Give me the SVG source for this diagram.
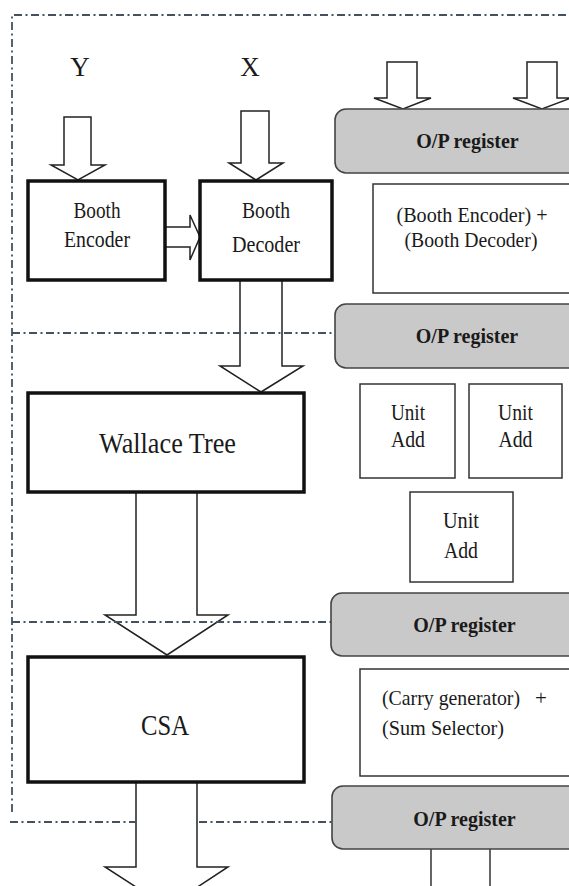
<svg xmlns="http://www.w3.org/2000/svg" width="569" height="886" viewBox="0 0 569 886">
<style>
.bg{fill:#ffffff}
.dash{fill:none;stroke:#44525f;stroke-width:1.8;stroke-dasharray:8 3.5 2 3.5}
.thick{fill:#ffffff;stroke:#111111;stroke-width:3.5}
.thin{fill:#ffffff;stroke:#333333;stroke-width:1.5}
.reg{fill:#c9c9c9;stroke:#444444;stroke-width:1.6}
.arrow{fill:#ffffff;stroke:#222222;stroke-width:1.5;stroke-linejoin:miter}
text{fill:#1a1a1a}
.t{text-anchor:middle}
.b{font-weight:bold;font-size:20px}
</style>
<rect class="bg" x="0" y="0" width="569" height="886"/>

<g id="connectors">
<polygon class="arrow" points="64,117 91,117 91,165 105,165 78,180 51,165 64,165"/>
<polygon class="arrow" points="241,111 269,111 269,163 283,163 256,180 229,163 241,163"/>
<polygon class="arrow" points="165,227 190,227 190,215 200,237 190,260 190,247 165,247"/>
<polygon class="arrow" points="387,62 417,62 417,98 431,98 403,109 374,98 387,98"/>
<polygon class="arrow" points="527,62 557,62 557,98 571,98 542,109 513,98 527,98"/>
<polygon class="arrow" points="240,280 282,280 282,366 303,366 261,392 220,366 240,366"/>
<polygon class="arrow" points="136,492 197,492 197,615 228,615 167,655 105,615 136,615"/>
<polygon class="arrow" points="136,782 197,782 197,867 228,867 167,907 105,867 136,867"/>
<line x1="431" y1="849" x2="431" y2="890" stroke="#333" stroke-width="1.5"/>
<line x1="490" y1="849" x2="490" y2="890" stroke="#333" stroke-width="1.5"/>
</g>

<g id="boundaries">
<polyline class="dash" points="600,15 12,15 12,813"/>
<line class="dash" x1="12" y1="333" x2="335" y2="333"/>
<line class="dash" x1="12" y1="622" x2="331" y2="622"/>
<line class="dash" x1="10" y1="822" x2="136" y2="822"/>
<line class="dash" x1="199" y1="822" x2="332" y2="822"/>
</g>

<g font-family="'Liberation Serif', 'Times New Roman', Times, serif">
<g id="label-y"><text class="t" x="80" y="76" font-size="27">Y</text></g>
<g id="label-x"><text class="t" x="250" y="76" font-size="27">X</text></g>

<g id="booth-encoder">
<rect class="thick" x="28" y="181" width="137" height="99"/>
<text class="t" x="97" y="218" font-size="23" textLength="47" lengthAdjust="spacingAndGlyphs">Booth</text>
<text class="t" x="97" y="247" font-size="23" textLength="66" lengthAdjust="spacingAndGlyphs">Encoder</text>
</g>

<g id="booth-decoder">
<rect class="thick" x="200" y="181" width="132" height="99"/>
<text class="t" x="266" y="218" font-size="23" textLength="48" lengthAdjust="spacingAndGlyphs">Booth</text>
<text class="t" x="266" y="252" font-size="23" textLength="68" lengthAdjust="spacingAndGlyphs">Decoder</text>
</g>

<g id="wallace-tree">
<rect class="thick" x="28" y="393" width="276" height="99"/>
<text class="t" x="167.5" y="453" font-size="29" textLength="137" lengthAdjust="spacingAndGlyphs">Wallace Tree</text>
</g>

<g id="csa">
<rect class="thick" x="28" y="657" width="276" height="125"/>
<text class="t" x="165" y="735" font-size="29" textLength="48" lengthAdjust="spacingAndGlyphs">CSA</text>
</g>

<g id="op-register-1">
<rect class="reg" x="335" y="109" width="260" height="64" rx="11"/>
<text class="t b" x="467.5" y="148">O/P register</text>
</g>

<g id="booth-enc-dec">
<rect class="thin" x="373" y="184" width="220" height="109"/>
<text class="t" x="472" y="222" font-size="21" textLength="151" lengthAdjust="spacingAndGlyphs">(Booth Encoder) +</text>
<text class="t" x="471" y="247" font-size="21" textLength="133" lengthAdjust="spacingAndGlyphs">(Booth Decoder)</text>
</g>

<g id="op-register-2">
<rect class="reg" x="335" y="304" width="260" height="64" rx="11"/>
<text class="t b" x="467" y="343">O/P register</text>
</g>

<g id="unit-add-1">
<rect class="thin" x="360" y="384" width="95" height="94"/>
<text class="t" x="408" y="420" font-size="23" textLength="34" lengthAdjust="spacingAndGlyphs">Unit</text>
<text class="t" x="408" y="447" font-size="23" textLength="34" lengthAdjust="spacingAndGlyphs">Add</text>
</g>

<g id="unit-add-2">
<rect class="thin" x="469" y="384" width="93" height="94"/>
<text class="t" x="515.5" y="420" font-size="23" textLength="35" lengthAdjust="spacingAndGlyphs">Unit</text>
<text class="t" x="515.5" y="447" font-size="23" textLength="34" lengthAdjust="spacingAndGlyphs">Add</text>
</g>

<g id="unit-add-3">
<rect class="thin" x="410" y="492" width="103" height="90"/>
<text class="t" x="461" y="528" font-size="23" textLength="36" lengthAdjust="spacingAndGlyphs">Unit</text>
<text class="t" x="461" y="558" font-size="23" textLength="34" lengthAdjust="spacingAndGlyphs">Add</text>
</g>

<g id="op-register-3">
<rect class="reg" x="331" y="593" width="264" height="63" rx="11"/>
<text class="t b" x="464.5" y="632">O/P register</text>
</g>

<g id="carry-sum">
<rect class="thin" x="360" y="669" width="235" height="107"/>
<text x="382" y="705" font-size="21" textLength="138" lengthAdjust="spacingAndGlyphs">(Carry generator)</text>
<text x="535" y="705" font-size="21">+</text>
<text x="382" y="735" font-size="21" textLength="122" lengthAdjust="spacingAndGlyphs">(Sum Selector)</text>
</g>

<g id="op-register-4">
<rect class="reg" x="332" y="786" width="263" height="63" rx="11"/>
<text class="t b" x="464.5" y="826">O/P register</text>
</g>
</g>
</svg>
